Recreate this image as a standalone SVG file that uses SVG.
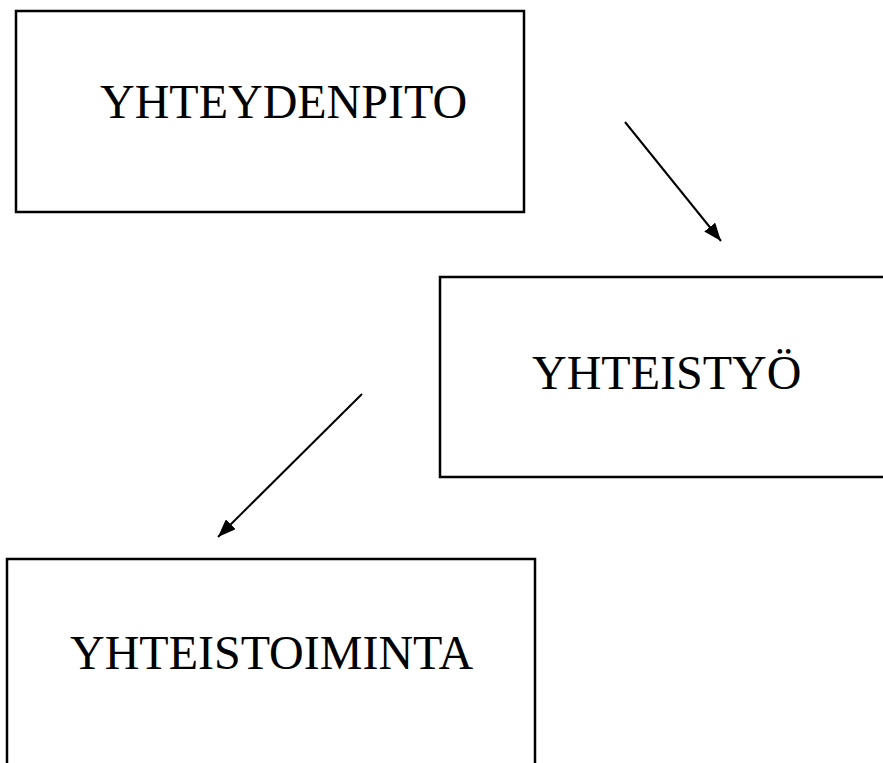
<svg xmlns="http://www.w3.org/2000/svg" width="883" height="763" viewBox="0 0 883 763">
<defs>
<style>
.box{fill:#fff;stroke:#000;stroke-width:2.5}
.lbl{font-family:"Liberation Serif","Times New Roman",serif;font-size:48px;fill:#000}
.conn{stroke:#000;stroke-width:2;fill:none}
</style>
<marker id="ah" viewBox="0 0 18 14" refX="18" refY="7" markerWidth="18" markerHeight="14" markerUnits="userSpaceOnUse" orient="auto">
<path d="M0,0 L18,7 L0,14 z" fill="#000"/>
</marker>
</defs>
<rect width="883" height="763" fill="#fff"/>
<g id="node-yhteydenpito">
<rect class="box" x="16" y="11" width="508" height="201"/>
<text class="lbl" x="100" y="118">YHTEYDENPITO</text>
</g>
<g id="node-yhteistyo">
<rect class="box" x="440" y="277" width="460" height="200"/>
<text class="lbl" x="532" y="389">YHTEISTYÖ</text>
</g>
<g id="node-yhteistoiminta">
<rect class="box" x="7" y="559" width="528" height="230"/>
<text class="lbl" x="70" y="669">YHTEISTOIMINTA</text>
</g>
<g id="connectors">
<line class="conn" x1="625" y1="122" x2="721" y2="241" marker-end="url(#ah)"/>
<line class="conn" x1="362" y1="394" x2="218" y2="537" marker-end="url(#ah)"/>
</g>
</svg>
